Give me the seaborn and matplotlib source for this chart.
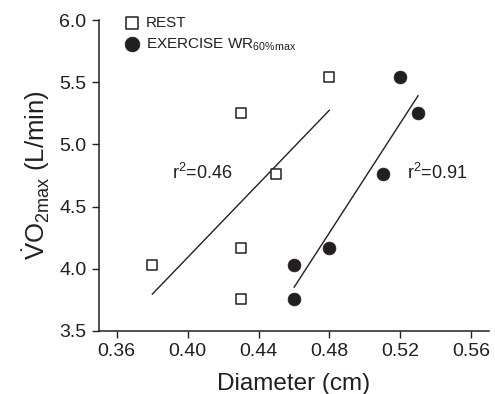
import numpy as np
import pandas as pd
import seaborn as sns
from matplotlib import pyplot as plt

# values
rest_diameter = [0.38, 0.43, 0.43, 0.43, 0.45, 0.48]
rest_vo2 = [4.03, 5.25, 4.17, 3.76, 4.76, 5.54]
ex_diameter = [0.46, 0.46, 0.48, 0.51, 0.52, 0.53]
ex_vo2 = [3.76, 4.03, 4.17, 4.76, 5.54, 5.25]
x_ticks = [0.36, 0.40, 0.44, 0.48, 0.52, 0.56]
y_ticks = [3.5, 4.0, 4.5, 5.0, 5.5, 6.0]

rest = pd.DataFrame({'diameter': rest_diameter, 'vo2': rest_vo2})
ex = pd.DataFrame({'diameter': ex_diameter, 'vo2': ex_vo2})

ink = '#231f20'

sns.set_style('ticks')
plt.rcParams['font.family'] = ['Liberation Sans', 'DejaVu Sans']
plt.rcParams['mathtext.fontset'] = 'custom'
plt.rcParams['mathtext.rm'] = 'Liberation Sans'
plt.rcParams['mathtext.it'] = 'Liberation Sans'

fig = plt.figure(figsize=(4.95, 3.94), dpi=100)
ax = fig.add_axes([0.2, 0.16, 0.788, 0.789])

# fit lines (no CI), truncated to data range
sns.regplot(data=rest, x='diameter', y='vo2', scatter=False, ci=None, ax=ax,
            line_kws=dict(color=ink, lw=1))
sns.regplot(data=ex, x='diameter', y='vo2', scatter=False, ci=None, ax=ax,
            line_kws=dict(color=ink, lw=1))

sns.scatterplot(data=rest, x='diameter', y='vo2', marker='s', s=62,
                facecolor='white', edgecolor=ink, linewidth=1.1, ax=ax,
                label='REST', zorder=3)
sns.scatterplot(data=ex, x='diameter', y='vo2', marker='o', s=85,
                color=ink, edgecolor=ink, linewidth=0.5, ax=ax,
                label=r'EXERCISE WR$_{\mathrm{60\%max}}$', zorder=3)

ax.set_xlim(0.35, 0.57)
ax.set_ylim(3.5, 6.0)
ax.set_xticks(x_ticks)
ax.set_yticks(y_ticks)
ax.set_xticklabels([f'{t:.2f}' for t in x_ticks])
ax.set_yticklabels([f'{t:.1f}' for t in y_ticks])
ax.tick_params(colors=ink, labelsize=14, length=5, width=1, pad=4)
for s in ['left', 'bottom']:
    ax.spines[s].set_color(ink)
    ax.spines[s].set_linewidth(1.1)
sns.despine(ax=ax)

ax.set_xlabel('Diameter (cm)', fontsize=17.5, color=ink, labelpad=9)
ax.set_ylabel(r'$\dot{\mathrm{V}}\mathrm{O}_{\mathrm{2max}}$ (L/min)',
              fontsize=18.5, color=ink, labelpad=5)

ax.text(0.3914, 4.72, r'r$^{2}$=0.46', fontsize=13, color=ink)
ax.text(0.5235, 4.72, r'r$^{2}$=0.91', fontsize=13, color=ink)

leg = ax.legend(loc='upper left', bbox_to_anchor=(0.045, 1.032), frameon=False,
                fontsize=11, handletextpad=0.3, labelspacing=0.4,
                borderaxespad=0, handlelength=1.2, markerscale=1.15)
for t in leg.get_texts():
    t.set_color(ink)

plt.savefig('out.png', dpi=100)
